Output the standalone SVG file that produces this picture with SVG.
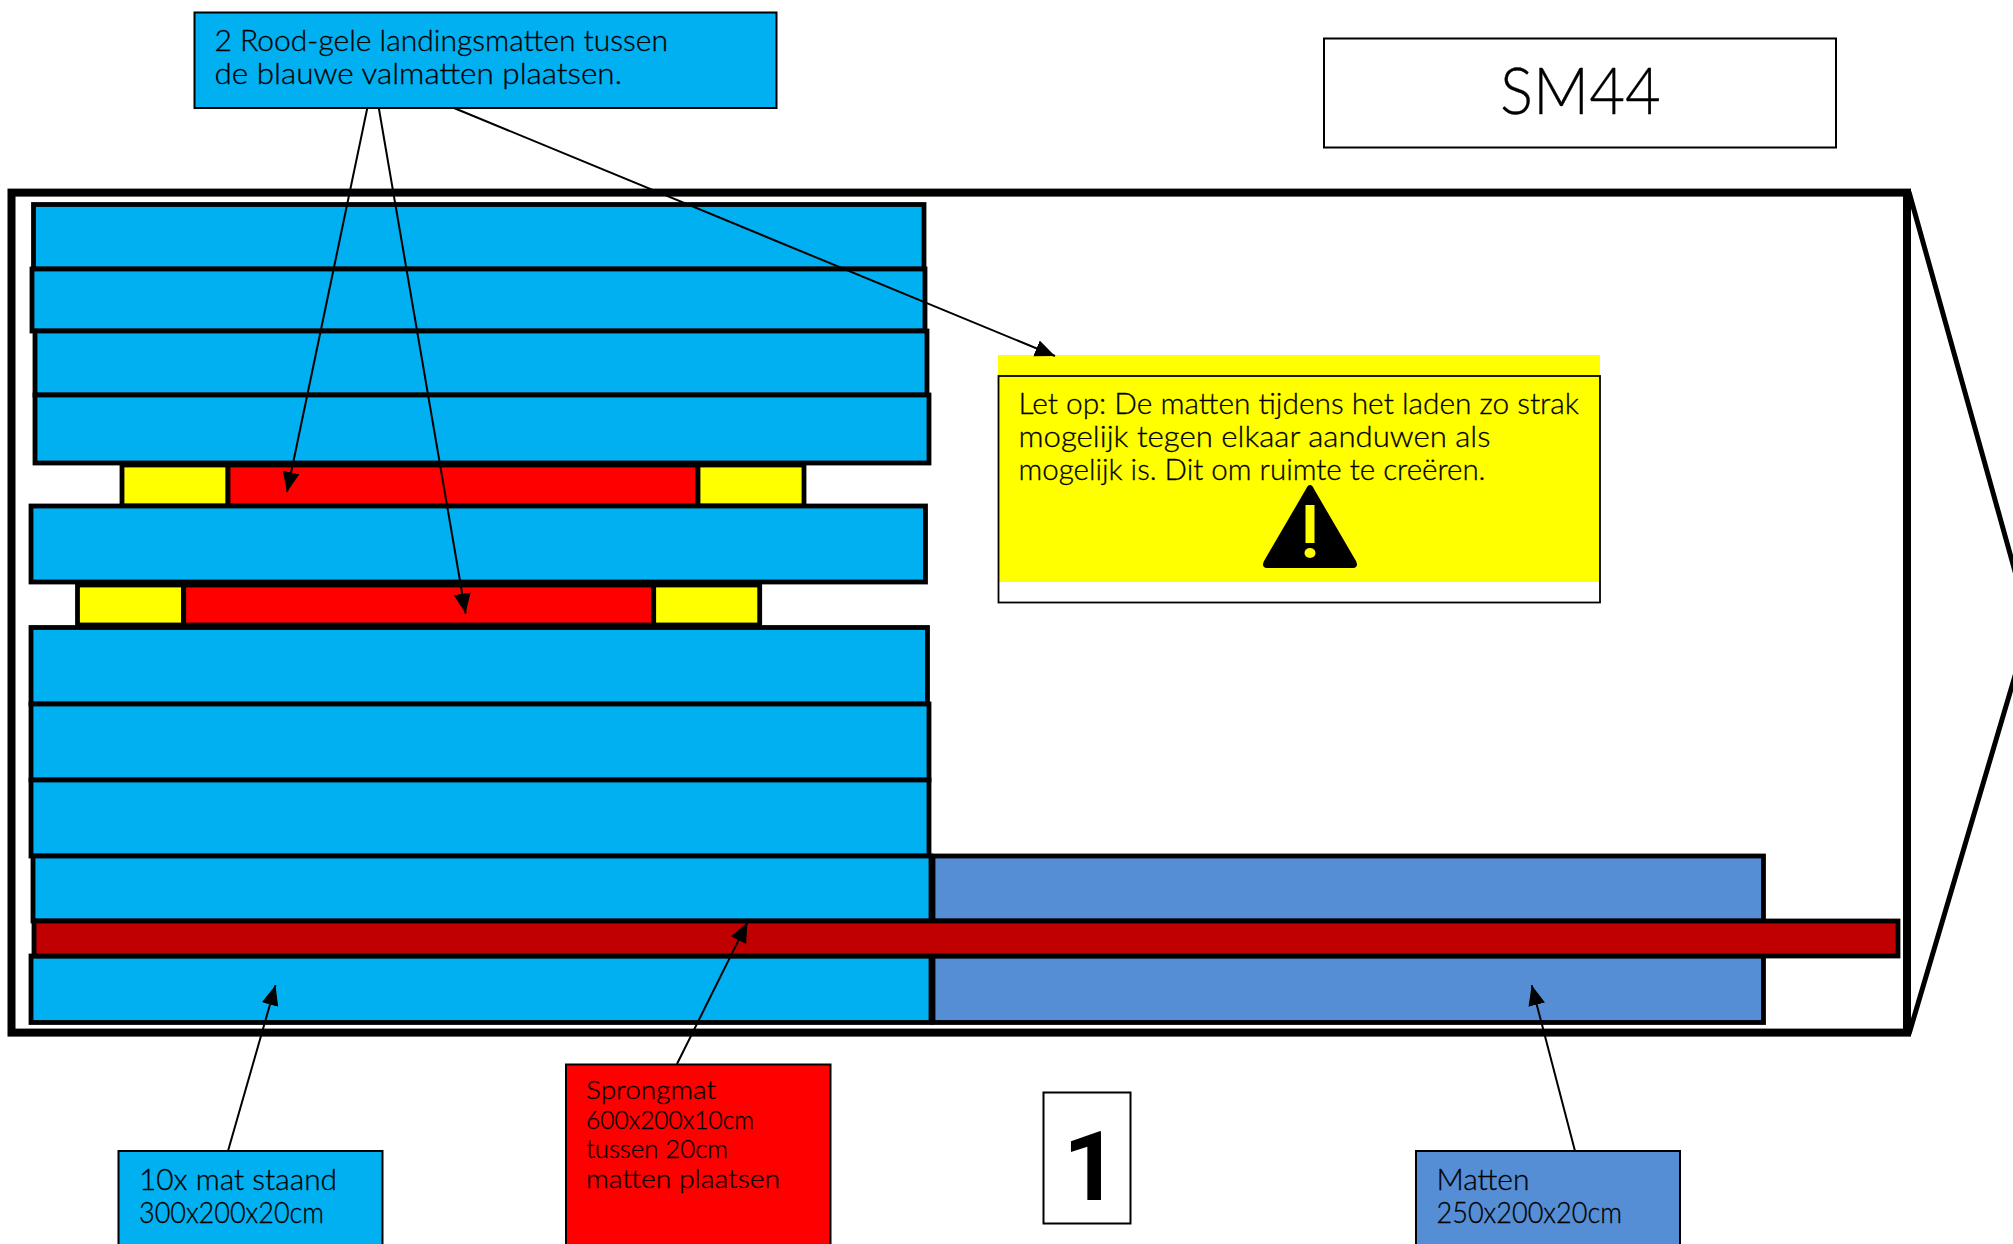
<svg xmlns="http://www.w3.org/2000/svg" width="2013" height="1244" viewBox="0 0 2013 1244">
<style>
text{font-family:"Lato","Open Sans","Liberation Sans",sans-serif;fill:#000;font-weight:300;stroke:#000;stroke-width:.3px}
.t{font-size:28.500px}
.s{font-size:25.500px}
.mat{fill:#00B0F0;stroke:#000;stroke-width:4.800}
.mat2{fill:#558ED5;stroke:#000;stroke-width:4.800}
.jump{fill:#C00000;stroke:#000;stroke-width:4.800}
.red{fill:#FF0000;stroke:#000;stroke-width:4.800}
.yel{fill:#FFFF00;stroke:#000;stroke-width:4.800}
.box{stroke:#000;stroke-width:2}
.conn{stroke:#000;stroke-width:2;fill:none;marker-end:url(#arr)}
.one{font-family:"Roboto",sans-serif;font-weight:700;font-size:97px;stroke:none}
</style>
<defs>
<marker id="arr" markerUnits="userSpaceOnUse" markerWidth="22" markerHeight="18" refX="20" refY="8.500" orient="auto"><path d="M0,0L20,8.500L0,17z" fill="#000"/></marker>
</defs>
<rect width="2013" height="1244" fill="#fff"/>
<g id="trailer" fill="none" stroke="#000">
<rect x="11.500" y="192.600" width="1895.500" height="840" stroke-width="8"/>
<path d="M1909,192L2030,625L1909,1034" stroke-width="5" id="nose"/>
</g>
<g id="mat-1"><rect class="mat" x="33.500" y="204.500" width="890.500" height="64.500"/></g>
<g id="mat-2"><rect class="mat" x="32" y="269" width="893" height="62"/></g>
<g id="mat-3"><rect class="mat" x="35" y="331" width="892" height="64"/></g>
<g id="mat-4"><rect class="mat" x="35" y="395" width="894" height="68"/></g>
<g id="landing-1"><rect class="yel" x="122" y="465" width="106" height="41"/><rect class="red" x="228" y="465" width="470" height="41"/><rect class="yel" x="698" y="465" width="106" height="41"/></g>
<g id="mat-5"><rect class="mat" x="31" y="506" width="894.500" height="76"/></g>
<g id="landing-2"><rect class="yel" x="77.500" y="585" width="106" height="40"/><rect class="red" x="183.700" y="585" width="470" height="40"/><rect class="yel" x="653.700" y="585" width="106" height="40"/></g>
<g id="mat-6"><rect class="mat" x="31" y="627.500" width="896.500" height="76.500"/></g>
<g id="mat-7"><rect class="mat" x="31" y="704" width="898" height="76"/></g>
<g id="mat-8"><rect class="mat" x="31" y="780" width="898" height="76"/></g>
<g id="mat-9"><rect class="mat" x="33" y="856" width="898" height="65"/></g>
<g id="mat-10"><rect class="mat" x="31" y="956" width="900" height="66.500"/></g>
<g id="mat-blue-1"><rect class="mat2" x="933" y="856" width="830.500" height="65"/></g>
<g id="mat-blue-2"><rect class="mat2" x="933" y="956" width="830.500" height="66.500"/></g>
<g id="sprongmat"><rect class="jump" x="34" y="921" width="1864" height="35"/></g>
<g id="callout-landing">
<rect class="box" x="194.500" y="12.500" width="582" height="95.500" fill="#00B0F0"/>
<text class="t" x="214.500" y="50.500" textLength="453.500" lengthAdjust="spacingAndGlyphs">2 Rood-gele landingsmatten tussen</text>
<text class="t" x="214.500" y="83.500" textLength="407.500" lengthAdjust="spacingAndGlyphs">de blauwe valmatten plaatsen.</text>
</g>
<g id="title">
<rect class="box" x="1324" y="38.500" width="512" height="109" fill="#fff"/>
<text x="1500" y="114" font-size="65" textLength="161" lengthAdjust="spacingAndGlyphs">SM44</text>
</g>
<g id="note">
<rect x="998" y="355" width="602" height="227" fill="#FFFF00"/>
<rect x="998.500" y="376" width="601.500" height="226.500" fill="none" stroke="#000" stroke-width="1.800"/>
<text class="t" x="1018.500" y="413.500" textLength="560.500" lengthAdjust="spacingAndGlyphs">Let op: De matten tijdens het laden zo strak</text>
<text class="t" x="1018.500" y="446.500" textLength="472" lengthAdjust="spacingAndGlyphs">mogelijk tegen elkaar aanduwen als</text>
<text class="t" x="1018.500" y="479.500" textLength="467" lengthAdjust="spacingAndGlyphs">mogelijk is. Dit om ruimte te creëren.</text>
<path d="M1310,485C1312,485 1313,487 1314,489L1356,561C1358,565 1357,568 1353,568L1267,568C1263,568 1262,565 1264,561L1306,489C1307,487 1308,485 1310,485Z" fill="#000"/>
<rect x="1305.500" y="505" width="9" height="38" fill="#FFFF00"/>
<ellipse cx="1310" cy="553" rx="5.500" ry="5" fill="#FFFF00"/>
</g>
<g id="callout-mat">
<rect class="box" x="118.500" y="1151" width="264" height="110" fill="#00B0F0"/>
<text class="t" x="139" y="1189.500" textLength="198" lengthAdjust="spacingAndGlyphs">10x mat staand</text>
<text class="t" x="139" y="1222.500" textLength="185" lengthAdjust="spacingAndGlyphs">300x200x20cm</text>
</g>
<g id="callout-sprongmat">
<rect class="box" x="566" y="1064.500" width="264.500" height="200" fill="#FF0000"/>
<text class="s" x="586" y="1099" textLength="130" lengthAdjust="spacingAndGlyphs">Sprongmat</text>
<text class="s" x="586" y="1128.500" textLength="168" lengthAdjust="spacingAndGlyphs">600x200x10cm</text>
<text class="s" x="586" y="1158" textLength="142" lengthAdjust="spacingAndGlyphs">tussen 20cm</text>
<text class="s" x="586" y="1188" textLength="194" lengthAdjust="spacingAndGlyphs">matten plaatsen</text>
</g>
<g id="number">
<rect class="box" x="1043.500" y="1092.500" width="87" height="131" fill="#fff"/>
<text class="one" x="1063" y="1200">1</text>
</g>
<g id="callout-matten">
<rect class="box" x="1416" y="1151" width="264" height="110" fill="#558ED5"/>
<text class="t" x="1436.500" y="1189.500" textLength="93" lengthAdjust="spacingAndGlyphs">Matten</text>
<text class="t" x="1436.500" y="1222.500" textLength="185.500" lengthAdjust="spacingAndGlyphs">250x200x20cm</text>
</g>
<g id="connectors">
<line class="conn" x1="367.300" y1="108" x2="287" y2="492"/>
<line class="conn" x1="378.800" y1="108" x2="465.600" y2="613.500"/>
<line class="conn" x1="454" y1="108" x2="1055" y2="356"/>
<line class="conn" x1="228" y1="1151" x2="275.500" y2="985.300"/>
<line class="conn" x1="677" y1="1064" x2="747.400" y2="922.400"/>
<line class="conn" x1="1575" y1="1151" x2="1531.700" y2="985.300"/>
</g>
</svg>
